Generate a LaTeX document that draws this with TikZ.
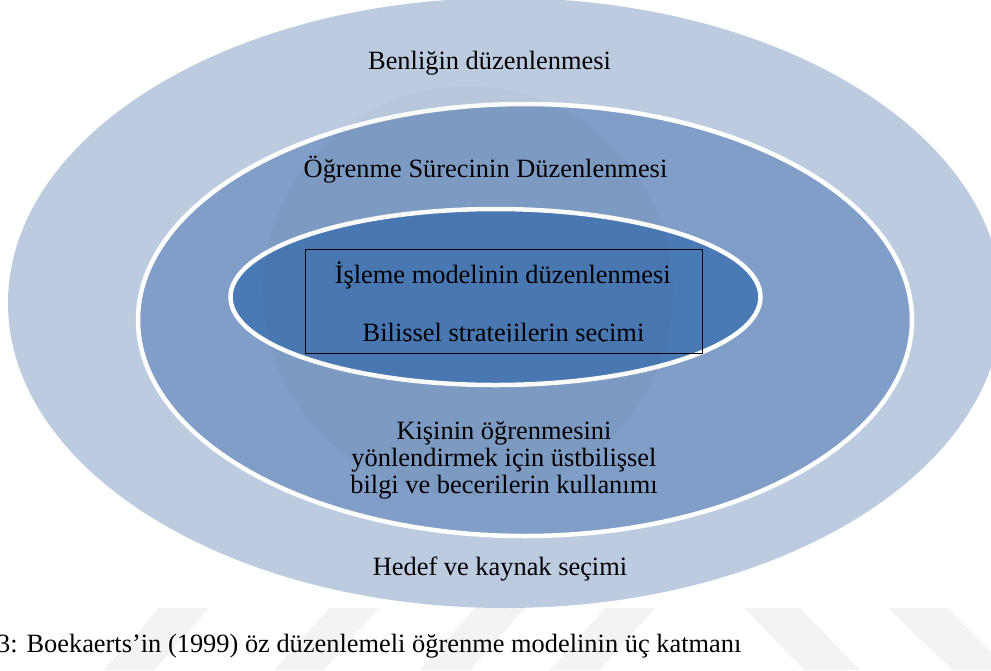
\documentclass[tikz,border=0pt]{standalone}
\usepackage{fontspec}
\setmainfont{Liberation Serif}
\usetikzlibrary{shapes.geometric}
\definecolor{outerc}{HTML}{BDCBE1}
\definecolor{midc}{HTML}{809EC7}
\definecolor{innerc}{HTML}{4A7AB5}
\definecolor{stripec}{HTML}{F3F3F3}
\begin{document}
\begin{tikzpicture}[x=1pt,y=-1pt,
  lbl/.style={font=\fontsize{26.4}{27}\selectfont, text=black, inner sep=0pt, align=center},
  ring/.style={ellipse, inner sep=0pt, outer sep=0pt},
  stripe/.style={fill=stripec, draw=none}]
\useasboundingbox (0,0) rectangle (991,670);
\clip (0,0) rectangle (991,670);
% faint watermark stripes
\fill[stripe] (159,608) -- (209,608) -- (154,670) -- (104,670) -- cycle;
\fill[stripe] (329,608) -- (379,608) -- (324,670) -- (274,670) -- cycle;
\fill[stripe] (475,608) -- (525,608) -- (470,670) -- (420,670) -- cycle;
\fill[stripe] (605,608) -- (655,608) -- (600,670) -- (550,670) -- cycle;
\fill[stripe] (744,608) -- (800,608) -- (860,670) -- (804,670) -- cycle;
\fill[stripe] (888,608) -- (948,608) -- (1008,670) -- (952,670) -- cycle;
% layers
\node[ring, fill=outerc, minimum width=994pt, minimum height=610pt] (outer) at (505,303) {};
\node[ring, fill=midc, draw=white, line width=4.5pt, minimum width=774pt, minimum height=432pt] (middle) at (525,320) {};
\node[ring, fill=innerc, draw=white, line width=4.5pt, minimum width=530pt, minimum height=176pt] (inner) at (495.5,297) {};
% faint watermark disc
\fill[black, opacity=0.018] (468,291) circle[radius=205pt];
% box
\node[draw=black, line width=0.9pt, minimum width=397pt, minimum height=104pt, inner sep=0pt] (box) at (503.5,301) {};
% texts
\node[lbl, anchor=base] (self) at (489.5,69) {Benliğin düzenlenmesi};
\node[lbl, anchor=base] (proc) at (485.5,177) {Öğrenme Sürecinin Düzenlenmesi};
\node[lbl, anchor=base] (model) at (502.7,283) {İşleme modelinin düzenlenmesi};
\begin{scope}
  \clip (306,250) rectangle (701,341.5);
  \node[lbl, anchor=base] (strat) at (503.5,341) {Bilişsel stratejilerin seçimi};
\end{scope}
\node[lbl, anchor=base] (meta) at (504,493) {Kişinin öğrenmesini\\yönlendirmek için üstbilişsel\\bilgi ve becerilerin kullanımı};
\node[lbl, anchor=base] (goal) at (500,575) {Hedef ve kaynak seçimi};
\node[lbl, anchor=base west] (cap) at (-3,652) {3: Boekaerts’in (1999) öz düzenlemeli öğrenme modelinin üç katmanı};
\end{tikzpicture}
\end{document}
